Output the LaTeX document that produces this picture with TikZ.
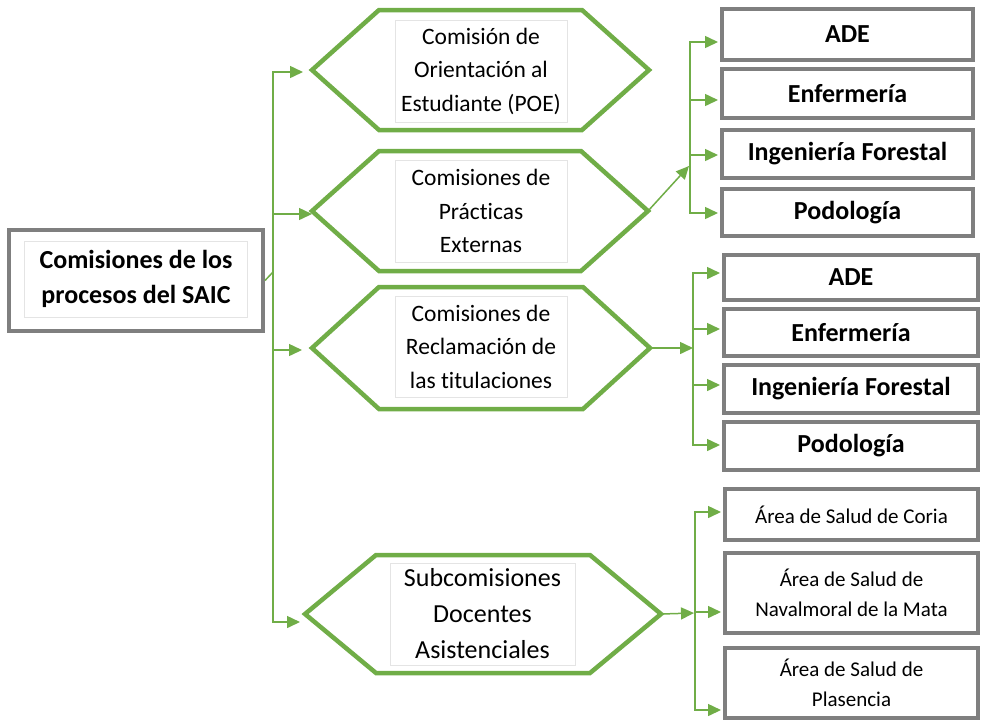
\documentclass[tikz,border=0pt]{standalone}
\usepackage{fontspec}
\setmainfont[Ligatures={NoCommon,NoContextual,NoRare}]{Carlito}
\usetikzlibrary{arrows.meta,calc}
\definecolor{grn}{HTML}{70AD47}
\definecolor{gry}{HTML}{7F7F7F}
\definecolor{faint}{HTML}{E4E4E4}
\tikzset{
  hexline/.style={draw=grn, line width=4.5pt, line join=miter, fill=white},
  conn/.style={draw=grn, line width=1.5pt},
  arr/.style={conn, -{Triangle[length=13pt,width=12pt]}},
  gbox/.style={draw=gry, line width=4pt, fill=white, inner sep=0pt, align=center},
  tframe/.style={draw=faint, line width=0.6pt, align=center, inner sep=0pt},
  bigbold/.style={font={\fontsize{26}{35}\selectfont\bfseries}},
  hexfont/.style={font={\fontsize{23.5}{33.5}\selectfont}},
  hexfontb/.style={font={\fontsize{26}{36}\selectfont}},
  smallfont/.style={font={\fontsize{21}{30}\selectfont}},
}
\newcommand\hexa[6]{%
  \draw[hexline] (#2-#4,#3) -- (#2-#4+#6,#3-#5) -- (#2+#4-#6,#3-#5) -- (#2+#4,#3)
    -- (#2+#4-#6,#3+#5) -- (#2-#4+#6,#3+#5) -- cycle;
  \coordinate (#1W) at (#2-#4,#3);
  \coordinate (#1E) at (#2+#4,#3);}
\begin{document}
\begin{tikzpicture}[x=1pt,y=-1pt]
\useasboundingbox (0,0) rectangle (981,724);

% root
\node[gbox, minimum width=254pt, minimum height=101pt] (root) at (136,280.5) {};
\node[tframe, bigbold, minimum width=223pt, minimum height=76pt] (rootT) at (136,279)
  {Comisiones de los\\procesos del SAIC};

% hexagons
\hexa{h1}{480.5}{70}{168.5}{60}{67}
\hexa{h2}{480}{211}{168}{60}{67}
\hexa{h3}{481}{348}{169}{61}{67}
\hexa{h4}{483}{614}{178}{59}{71}
\node[tframe, hexfont, minimum width=172pt, minimum height=102pt] (h1T) at (481,71)
  {Comisión de\\Orientación al\\Estudiante (POE)};
\node[tframe, hexfont, minimum width=172pt, minimum height=102pt] (h2T) at (481,211)
  {Comisiones de\\Prácticas\\Externas};
\node[tframe, hexfont, minimum width=172pt, minimum height=101pt] (h3T) at (481,346.5)
  {Comisiones de\\Reclamación de\\las titulaciones};
\node[tframe, hexfontb, minimum width=185pt, minimum height=102pt] (h4T) at (482.5,614)
  {Subcomisiones\\Docentes\\Asistenciales};

% right boxes group 1
\node[gbox, bigbold, minimum width=251pt, minimum height=51pt] (g1a) at (847.5,34.5) {ADE};
\node[gbox, bigbold, minimum width=251pt, minimum height=49pt] (g1b) at (847.5,93.5) {Enfermería};
\node[gbox, bigbold, minimum width=251pt, minimum height=48pt] (g1c) at (847.5,154) {Ingeniería Forestal};
\node[gbox, bigbold, minimum width=251pt, minimum height=47pt] (g1d) at (847.5,212.5) {Podología};
% group 2
\node[gbox, bigbold, minimum width=254pt, minimum height=45pt] (g2a) at (851,277.5) {ADE};
\node[gbox, bigbold, minimum width=254pt, minimum height=47pt] (g2b) at (851,332.5) {Enfermería};
\node[gbox, bigbold, minimum width=254pt, minimum height=48pt] (g2c) at (851,389) {Ingeniería Forestal};
\node[gbox, bigbold, minimum width=254pt, minimum height=48pt] (g2d) at (851,446) {Podología};
% group 3
\node[gbox, smallfont, minimum width=253pt, minimum height=51pt] (g3a) at (851.5,514.5) {Área de Salud de Coria};
\node[gbox, smallfont, minimum width=253pt, minimum height=80pt] (g3b) at (851.5,593) {Área de Salud de\\Navalmoral de la Mata};
\node[gbox, smallfont, minimum width=253pt, minimum height=70pt] (g3c) at (851.5,683) {Área de Salud de\\Plasencia};

% main trunk
\coordinate (tTop) at (273,72);
\coordinate (t2) at (273,214);
\coordinate (tIn) at (273,272);
\coordinate (t3) at (273,350);
\coordinate (tBot) at (273,622);
\draw[conn] (root.east) -- (tIn);
\draw[arr, shorten >=9pt] (tBot) -- (tTop) -- (tTop -| h1W);
\draw[arr] (t2) -- (t2 -| h2W);
\draw[arr, shorten >=10pt] (t3) -- (t3 -| h3W);
\draw[arr, shorten >=5pt] (tTop) -- (tBot) -- (tBot -| h4W);

% group 1 connectors
\coordinate (s1a) at (690,42);
\coordinate (s1b) at (690,100);
\coordinate (s1c) at (690,155);
\coordinate (s1d) at (690,213);
\coordinate (s1in) at (689,166);
\draw[arr, shorten >=2pt] (s1d) -- (s1a) -- (s1a -| g1a.west);
\draw[arr, shorten >=2pt] (s1b) -- (s1b -| g1b.west);
\draw[arr, shorten >=2pt] (s1c) -- (s1c -| g1c.west);
\draw[arr, shorten >=2pt] (s1a) -- (s1d) -- (s1d -| g1d.west);
\draw[arr] (h2E) -- (s1in);

% group 2 connectors
\coordinate (s2a) at (693,273);
\coordinate (s2b) at (693,329);
\coordinate (s2c) at (693,385);
\coordinate (s2d) at (693,445);
\coordinate (s2in) at (693,348);
\draw[arr, shorten >=2pt] (s2d) -- (s2a) -- (s2a -| g2a.west);
\draw[arr, shorten >=2pt] (s2b) -- (s2b -| g2b.west);
\draw[arr, shorten >=2pt] (s2c) -- (s2c -| g2c.west);
\draw[arr, shorten >=2pt] (s2a) -- (s2d) -- (s2d -| g2d.west);
\draw[arr] (h3E) -- (s2in);

% group 3 connectors
\coordinate (s3a) at (695,512);
\coordinate (s3b) at (695,612);
\coordinate (s3c) at (695,710);
\coordinate (s3in) at (694,613);
\draw[arr, shorten >=2pt] (s3c) -- (s3a) -- (s3a -| g3a.west);
\draw[arr, shorten >=2pt] (s3b) -- (s3b -| g3b.west);
\draw[arr, shorten >=2pt] (s3a) -- (s3c) -- (s3c -| g3c.west);
\draw[arr] (h4E) -- (s3in);
\end{tikzpicture}
\end{document}
